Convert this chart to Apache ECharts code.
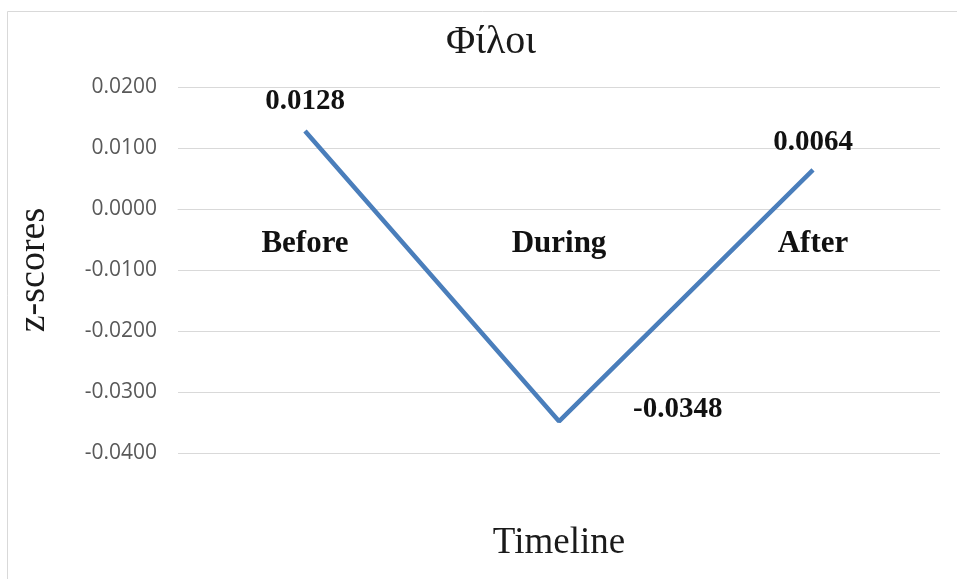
<!DOCTYPE html>
<html>
<head>
<meta charset="utf-8">
<script src="https://cdn.jsdelivr.net/npm/echarts@6/dist/echarts.min.js"></script>
<style>
  html, body { margin: 0; padding: 0; background: #ffffff; }
  #chart { width: 957px; height: 579px; }
</style>
</head>
<body>
<div id="chart"></div>
<script>
// Timeline of mean z-scores for "Φίλοι"
const categories = ['Before', 'During', 'After'];
const zScores = [0.0128, -0.0348, 0.0064];
const yTicks = { min: -0.04, max: 0.02, interval: 0.01 };

const SERIF = '"Liberation Serif", "DejaVu Serif", serif';
const SANS = '"Open Sans", "Liberation Sans", sans-serif';

const GRID = { left: 178, right: 17, top: 87, bottom: 126 };
const plotHeight = 579 - GRID.top - GRID.bottom;
// the category axis sits on the zero line of the value axis
const zeroLift = plotHeight * (0 - yTicks.min) / (yTicks.max - yTicks.min);

const valueLabel = {
  show: true,
  formatter: p => p.value.toFixed(4),
  fontFamily: SERIF, fontSize: 29, fontWeight: 'bold', color: '#111111'
};

// label placement for each point on the line
const labelPlacement = [
  { position: 'top', distance: 15 },
  { position: 'right', distance: 74, offset: [0, -12] },
  { position: 'top', distance: 13 }
];

const chart = echarts.init(document.getElementById('chart'), null, { renderer: 'canvas' });

chart.setOption({
  backgroundColor: '#ffffff',
  animation: false,
  title: {
    text: 'Φίλοι',
    left: 486,
    textAlign: 'center',
    top: 17,
    textStyle: { fontFamily: SERIF, fontSize: 40, fontWeight: 'normal', color: '#1a1a1a' }
  },
  graphic: [{
    type: 'rect',
    shape: { x: 7.5, y: 11.5, width: 1200, height: 1200 },
    style: { fill: 'none', stroke: '#d9d9d9', lineWidth: 1 },
    silent: true
  }],
  grid: Object.assign({ containLabel: false, outerBoundsMode: 'none' }, GRID),
  xAxis: {
    type: 'category',
    data: categories,
    boundaryGap: true,
    position: 'bottom',
    offset: -zeroLift,
    axisLine: { show: true, onZero: false, lineStyle: { color: '#d9d9d9', width: 1 } },
    axisTick: { show: false },
    axisLabel: {
      margin: 19,
      fontFamily: SERIF, fontSize: 31, fontWeight: 'bold', color: '#111111'
    },
    name: 'Timeline',
    nameLocation: 'middle',
    nameGap: 316,
    nameTextStyle: { fontFamily: SERIF, fontSize: 37, color: '#1a1a1a' }
  },
  yAxis: {
    type: 'value',
    min: yTicks.min,
    max: yTicks.max,
    interval: yTicks.interval,
    axisLine: { show: false },
    axisTick: { show: false },
    splitLine: { lineStyle: { color: '#d9d9d9', width: 1 } },
    axisLabel: {
      margin: 21,
      formatter: v => v.toFixed(4),
      fontFamily: SANS, fontSize: 21, color: '#595959'
    },
    name: 'z-scores',
    nameLocation: 'middle',
    nameGap: 125,
    nameRotate: 90,
    nameTextStyle: { fontFamily: SERIF, fontSize: 38, color: '#1a1a1a' }
  },
  series: [{
    type: 'line',
    data: zScores.map((v, i) => ({
      value: v,
      label: Object.assign({}, valueLabel, labelPlacement[i])
    })),
    symbol: 'circle',
    symbolSize: 0.1,
    showSymbol: true,
    itemStyle: { color: '#4a7ebb' },
    lineStyle: { color: '#4a7ebb', width: 4.5 },
    label: valueLabel,
    z: 5
  }]
});
</script>
</body>
</html>
